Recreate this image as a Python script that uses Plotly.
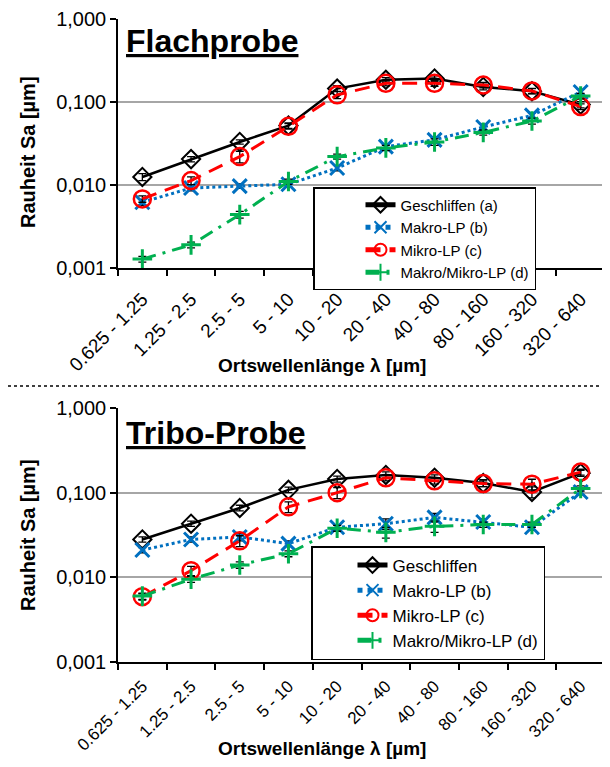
import plotly.graph_objects as go

cats = ["0.625 - 1.25", "1.25 - 2.5", "2.5 - 5", "5 - 10", "10 - 20",
        "20 - 40", "40 - 80", "80 - 160", "160 - 320", "320 - 640"]

# Flachprobe
flach_a = [0.0125, 0.0205, 0.033, 0.052, 0.145, 0.185, 0.192, 0.152, 0.135, 0.093]
flach_b = [0.0062, 0.0092, 0.0097, 0.0102, 0.0160, 0.029, 0.035, 0.050, 0.069, 0.132]
flach_c = [0.0068, 0.0113, 0.022, 0.051, 0.122, 0.168, 0.168, 0.160, 0.136, 0.088]
flach_d = [0.00128, 0.0019, 0.0044, 0.0110, 0.022, 0.028, 0.033, 0.043, 0.059, 0.118]
flach_a_err = [0.0012, 0.0015, 0.002, 0.004, 0.012, 0.012, 0.015, 0.012, 0.010, 0.008]
flach_b_err = [0.0005, 0.0007, 0.0006, 0.0008, 0.0012, 0.002, 0.003, 0.004, 0.005, 0.010]
flach_c_err = [0.0006, 0.0012, 0.0035, 0.004, 0.012, 0.012, 0.014, 0.012, 0.010, 0.007]
flach_d_err = [0.0001, 0.00015, 0.0004, 0.0008, 0.0015, 0.002, 0.003, 0.003, 0.005, 0.009]

# Tribo-Probe
tribo_a = [0.028, 0.043, 0.066, 0.108, 0.145, 0.162, 0.150, 0.130, 0.102, 0.170]
tribo_b = [0.021, 0.028, 0.030, 0.025, 0.039, 0.043, 0.051, 0.045, 0.039, 0.102]
tribo_c = [0.0059, 0.0120, 0.027, 0.068, 0.100, 0.150, 0.138, 0.128, 0.126, 0.175]
tribo_d = [0.0060, 0.0095, 0.014, 0.019, 0.038, 0.034, 0.040, 0.042, 0.042, 0.112]
tribo_a_err = [0.002, 0.003, 0.005, 0.008, 0.012, 0.014, 0.012, 0.012, 0.015, 0.014]
tribo_b_err = [0.0015, 0.002, 0.003, 0.002, 0.003, 0.006, 0.006, 0.004, 0.003, 0.008]
tribo_c_err = [0.0005, 0.0015, 0.004, 0.010, 0.015, 0.012, 0.012, 0.010, 0.018, 0.014]
tribo_d_err = [0.0005, 0.0008, 0.0012, 0.0015, 0.003, 0.005, 0.006, 0.003, 0.003, 0.008]

names_top = ["Geschliffen (a)", "Makro-LP (b)", "Mikro-LP (c)", "Makro/Mikro-LP (d)"]
names_bot = ["Geschliffen", "Makro-LP (b)", "Mikro-LP (c)", "Makro/Mikro-LP (d)"]

FONT = "Arial, 'Liberation Sans', sans-serif"
BLACK = "#000000"
BLUE = "#0070C0"
RED = "#FF0000"
GREEN = "#00B050"

styles = [
    dict(line=dict(color=BLACK, width=2.5),
         marker=dict(symbol="diamond-open", size=14, color=BLACK, line=dict(color=BLACK, width=2))),
    dict(line=dict(color=BLUE, width=3, dash="dot"),
         marker=dict(symbol="x-thin", size=14, color=BLUE, line=dict(color=BLUE, width=3))),
    dict(line=dict(color=RED, width=3, dash="15px,9px"),
         marker=dict(symbol="circle-open", size=17, color=RED, line=dict(color=RED, width=2.5))),
    dict(line=dict(color=GREEN, width=3, dash="14px,7px,3px,7px"),
         marker=dict(symbol="cross-thin", size=14, color=GREEN, line=dict(color=GREEN, width=3))),
]

fig = go.Figure()

def add_set(values, errs, names, xa, ya, legend):
    for v, e, n, s in zip(values, errs, names, styles):
        fig.add_trace(go.Scatter(
            x=cats, y=v, name=n, mode="lines+markers",
            line=s["line"], marker=s["marker"],
            error_y=dict(type="data", array=e, visible=True, color=BLACK, thickness=1.3, width=4),
            xaxis=xa, yaxis=ya, legend=legend,
        ))

add_set([flach_a, flach_b, flach_c, flach_d],
        [flach_a_err, flach_b_err, flach_c_err, flach_d_err], names_top, "x", "y", "legend")
add_set([tribo_a, tribo_b, tribo_c, tribo_d],
        [tribo_a_err, tribo_b_err, tribo_c_err, tribo_d_err], names_bot, "x2", "y2", "legend2")

# page has an 8px body margin: figure spans page pixels 8..610 / 8..759
OFF = 8
W, H = 602, 751

def px(xp):
    return (xp - OFF) / W

def py(yp):
    return 1 - (yp - OFF) / H

xdom = [px(118), px(605)]
top_dom = [py(268), py(19)]
bot_dom = [py(662), py(408)]

yticks = [0.001, 0.01, 0.1, 1]
yticktext = ["0,001", "0,010", "0,100", "1,000"]

xaxis_common = dict(
    type="category", tickson="boundaries", ticks="outside", ticklen=6, tickwidth=1.5,
    tickcolor=BLACK, showline=True, linecolor=BLACK, linewidth=1.5, showgrid=False,
    tickangle=-45, domain=xdom, range=[-0.5, 9.5], automargin=False,
)
yaxis_common = dict(
    type="log", range=[-3, 0], tickvals=yticks, ticktext=yticktext, ticks="outside",
    ticklen=6, tickwidth=1.5, tickcolor=BLACK, showline=True, linecolor=BLACK, linewidth=1.5,
    showgrid=True, gridcolor="#A6A6A6", gridwidth=1.5, zeroline=False, automargin=False,
    tickfont=dict(family=FONT, size=20, color=BLACK),
)

legend_common = dict(
    bgcolor="white", bordercolor=BLACK, borderwidth=1.5,
    xanchor="left", yanchor="top", tracegroupgap=0, itemsizing="constant",
)

fig.update_layout(
    width=W, height=H, margin=dict(l=0, r=0, t=0, b=0, autoexpand=False),
    paper_bgcolor="white", plot_bgcolor="white", showlegend=True,
    xaxis=dict(**xaxis_common, anchor="y", ticklabelstandoff=11,
               tickfont=dict(family=FONT, size=19, color=BLACK)),
    yaxis=dict(**yaxis_common, domain=top_dom, anchor="x"),
    xaxis2=dict(**xaxis_common, anchor="y2", ticklabelstandoff=6,
                tickfont=dict(family=FONT, size=17, color=BLACK)),
    yaxis2=dict(**yaxis_common, domain=bot_dom, anchor="x2"),
    legend=dict(**legend_common, x=px(313), y=py(187), indentation=46,
                font=dict(family=FONT, size=15, color=BLACK)),
    legend2=dict(**legend_common, x=px(311), y=py(546), indentation=40,
                 font=dict(family=FONT, size=17, color=BLACK)),
)

ann_font_title = dict(family=FONT, size=32, color=BLACK)
ann_font_axis = dict(family=FONT, size=19, color=BLACK)
fig.add_annotation(text="<b><u>Flachprobe</u></b>", x=px(124), y=py(41), xref="paper", yref="paper",
                   xanchor="left", yanchor="middle", showarrow=False, font=ann_font_title)
fig.add_annotation(text="<b><u>Tribo-Probe</u></b>", x=px(124), y=py(433), xref="paper", yref="paper",
                   xanchor="left", yanchor="middle", showarrow=False, font=ann_font_title)
for yc in [152, 535]:
    fig.add_annotation(text="<b>Rauheit Sa [µm]</b>", x=px(28), y=py(yc), xref="paper", yref="paper",
                       xanchor="center", yanchor="middle", showarrow=False, textangle=-90,
                       font=dict(family=FONT, size=20, color=BLACK))
for yc in [366, 748]:
    fig.add_annotation(text="<b>Ortswellenlänge λ [µm]</b>", x=px(322), y=py(yc), xref="paper",
                       yref="paper", xanchor="center", yanchor="middle", showarrow=False,
                       font=ann_font_axis)

fig.add_shape(type="line", xref="paper", yref="paper", x0=0, x1=1, y0=py(386), y1=py(386),
              line=dict(color=BLACK, width=1.5, dash="dot"))

fig.write_html("out.html")
